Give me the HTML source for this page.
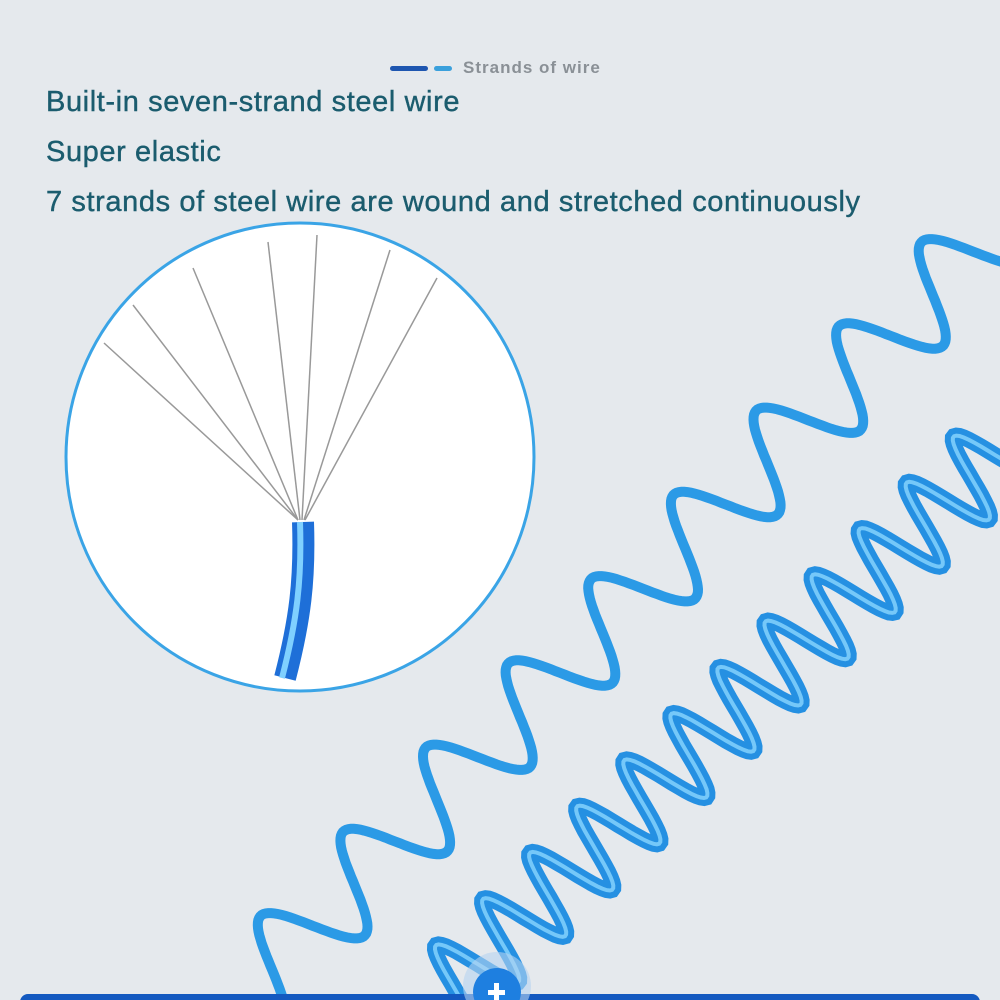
<!DOCTYPE html>
<html><head><style>
body{margin:0;width:1000px;height:1000px;overflow:hidden;background:#e5e9ed;font-family:"Liberation Sans",sans-serif}
.t{position:absolute;left:46px;color:#1b5c6e;font-size:29px;letter-spacing:0.6px;-webkit-text-stroke:0.4px #1b5c6e}
</style></head><body>
<svg width="1000" height="1000" style="position:absolute;left:0;top:0">
<rect x="390" y="66" width="38" height="5" rx="2.5" fill="#1e56b0"/>
<rect x="434" y="66" width="18" height="5" rx="2.5" fill="#3aa0dc"/>
<text x="463" y="73" font-size="17" letter-spacing="1" font-weight="bold" fill="#8a9096" font-family="Liberation Sans">Strands of wire</text>
<circle cx="300" cy="457" r="234" fill="#fff" stroke="#3aa4e6" stroke-width="3"/>
<g stroke="#999" stroke-width="1.5" fill="none">
<path d="M298 520 L104 343"/><path d="M298 520 L133 305"/><path d="M298 520 L193 268"/>
<path d="M300 520 L268 242"/><path d="M302 520 L317 235"/><path d="M304 520 L390 250"/><path d="M305 520 L437 278"/>
</g>
<path d="M303 522 C305 580 300 620 285 678" stroke="#1e6fd8" stroke-width="22" fill="none"/>
<path d="M300 522 C302 580 297 620 282 678" stroke="#7fd0ff" stroke-width="6" fill="none"/>
<path id="s1" fill="none" stroke="#2b9ae6" stroke-width="10" stroke-linecap="round"/>
<path id="s2" fill="none" stroke="#2590e2" stroke-width="16" stroke-linecap="round"/>
<path id="s2h" fill="none" stroke="#8ad6ff" stroke-width="4" stroke-linecap="round" opacity=".8"/>
<rect x="20" y="994" width="960" height="20" rx="8" fill="#1359c0"/>
<circle cx="497" cy="986" r="34" fill="#b5d4f0" opacity=".6"/>
<circle cx="497" cy="992" r="24" fill="#1e7fe0"/>
<rect x="494" y="983" width="5" height="17" fill="#fff"/><rect x="488" y="990" width="17" height="5" fill="#fff"/>
</svg>
<div class="t" style="top:86px">Built-in seven-strand steel wire</div>
<div class="t" style="top:136px">Super elastic</div>
<div class="t" style="top:186px">7 strands of steel wire are wound and stretched continuously</div>
<script>
function sp(x0,y0,x1,y1,amp,per){var dx=x1-x0,dy=y1-y0,L=Math.hypot(dx,dy),ux=dx/L,uy=dy/L,nx=-uy,ny=ux,d="";
for(var s=0;s<=L;s+=2){var a=amp*Math.sin(2*Math.PI*s/per);var x=x0+ux*s+nx*a,y=y0+uy*s+ny*a;d+=(s?"L":"M")+x.toFixed(1)+" "+y.toFixed(1);}return d;}
document.getElementById("s1").setAttribute("d",sp(230,1010,990,235,44,118));
var d2=sp(430,1010,1010,440,42,66);
document.getElementById("s2").setAttribute("d",d2);
document.getElementById("s2h").setAttribute("d",d2);
</script>
</body></html>
